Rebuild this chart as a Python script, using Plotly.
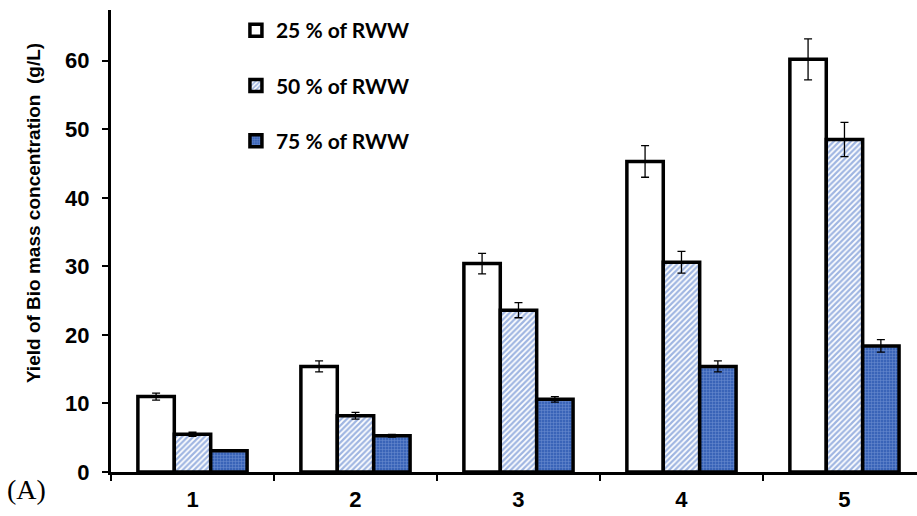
import plotly.graph_objects as go

categories = ["1", "2", "3", "4", "5"]
series_names = ["25 % of RWW", "50 % of RWW", "75 % of RWW"]
rww25 = [11.0, 15.4, 30.4, 45.3, 60.2]
rww25_err = [0.5, 0.8, 1.5, 2.3, 3.0]
rww50 = [5.5, 8.2, 23.6, 30.6, 48.5]
rww50_err = [0.3, 0.5, 1.1, 1.6, 2.5]
rww75 = [3.1, 5.3, 10.6, 15.4, 18.4]
rww75_err = [0.1, 0.2, 0.4, 0.8, 0.9]
y_ticks = [0, 10, 20, 30, 40, 50, 60]
y_title = "Yield of Bio mass concentration  (g/L)"

patterns = [
    dict(shape=""),
    dict(shape="/", fgcolor="#3f6cc4", bgcolor="white", size=4, solidity=0.55, fillmode="overlay"),
    dict(shape="+", fgcolor="#9fb8e8", bgcolor="#3a64b8", size=3, solidity=0.3, fillmode="overlay"),
]
fills = ["white", "white", "#3a64b8"]

fig = go.Figure()
for i, (name, vals, errs) in enumerate(zip(series_names, [rww25, rww50, rww75],
                                            [rww25_err, rww50_err, rww75_err])):
    fig.add_trace(go.Bar(
        x=categories, y=vals, name="<b>" + name + "</b>", legendgroup=name,
        marker=dict(color=fills[i], pattern=patterns[i],
                    line=dict(color="black", width=3.5)),
        error_y=dict(type="data", array=errs, color="black", thickness=1.3, width=4),
    ))

tick_font = dict(family="Liberation Sans", size=22, color="black")

fig.update_layout(
    width=917, height=516,
    margin=dict(l=111, r=0, t=10, b=44),
    paper_bgcolor="white", plot_bgcolor="white",
    barmode="group", bargap=0.33, bargroupgap=0,
    showlegend=True,
    legend=dict(x=0.155, y=1.0, xanchor="left", yanchor="top",
                font=dict(family="Lato", size=21, color="black"),
                tracegroupgap=25, bgcolor="rgba(0,0,0,0)", itemwidth=30),
    xaxis=dict(range=[-0.5, 4.445], showline=True, linecolor="black", linewidth=3,
               ticks="outside", tickson="boundaries", ticklen=6, tickwidth=2,
               tickcolor="black", tickfont=tick_font, ticklabelstandoff=6,
               tickvals=categories, ticktext=["<b>" + c + "</b>" for c in categories],
               showgrid=False, zeroline=False),
    yaxis=dict(range=[0, 67.4], tickvals=y_ticks,
               ticktext=["<b>%d</b>" % v for v in y_ticks],
               showline=True, linecolor="black",
               linewidth=3, ticks="outside", ticklen=6, tickwidth=2, tickcolor="black",
               tickfont=tick_font, ticklabelstandoff=8,
               showgrid=False, zeroline=False),
    annotations=[
        dict(text="(A)", xref="paper", yref="paper", x=-0.131, y=0.0,
             xanchor="left", yanchor="top", showarrow=False,
             font=dict(family="Liberation Serif", size=28, color="black")),
        dict(text="<b>" + y_title + "</b>", xref="paper", yref="paper",
             x=-0.097, y=0.56, xanchor="center", yanchor="middle", textangle=-90,
             showarrow=False,
             font=dict(family="Liberation Sans", size=19, color="black")),
    ],
)

fig.write_html("out.html")
